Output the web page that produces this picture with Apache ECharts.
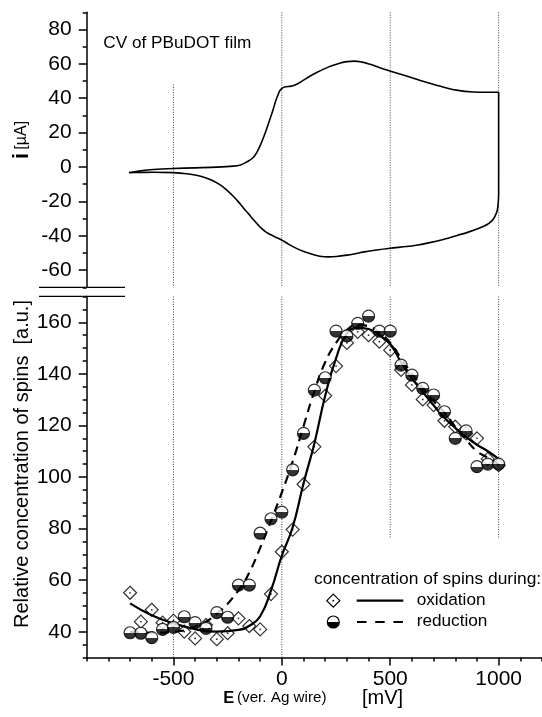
<!DOCTYPE html>
<html>
<head>
<meta charset="utf-8">
<script src="https://cdn.jsdelivr.net/npm/echarts@6/dist/echarts.min.js"></script>
<style>
html,body{margin:0;padding:0;background:#fff;}
#c{width:542px;height:717px;}
</style>
</head>
<body>
<div id="c"></div>
<script>
// ---------- data ----------
// Cyclic voltammogram, forward (anodic) branch
const cvForwardE = [-705,-650,-593,-500,-400,-300,-224,-190,-170,-150,-132,-115,-101,-85,-71,-55,-40,-28,-17,-8,6,20,37,55,75,100,129,160,190,230,267,300,336,370,398,425,452,498,575,651,728,805,882,950,1000];
const cvForwardI = [-3.3,-2.2,-1.5,-0.9,-0.5,-0.1,0.5,1.2,2.4,3.8,5.5,8.5,12.1,17,21.8,27.8,33.5,38.5,42.2,44.6,46.2,46.7,46.9,47.4,48.6,50.5,52.8,54.9,56.8,58.9,60.4,61.3,61.6,61,60.1,59,57.7,55.9,52.9,49.9,47.1,44.7,43.6,43.5,43.5];
// reverse (cathodic) branch
const cvReverseE = [1000,1000,998,994,989,978,966,945,912,860,805,740,682,620,575,498,421,380,344,300,252,215,175,140,98,60,37,1,-35,-71,-100,-132,-155,-178,-200,-224,-255,-286,-325,-363,-400,-439,-501,-593,-650,-705];
const cvReverseI = [10,-15,-21,-25,-27,-29.8,-31.6,-33.6,-35.5,-37.9,-40,-42.3,-44,-45.5,-46.3,-47.3,-48.6,-49.4,-50.3,-51.3,-52.1,-52.3,-51.9,-50.8,-49,-46.9,-45.3,-42.6,-40.4,-38,-35,-30.5,-27,-23.7,-20.3,-17,-13.3,-10.3,-7.6,-5.8,-4.7,-3.9,-3.3,-3.1,-3.2,-3.3];

// Relative concentration of spins (points)
const potentials = [-700,-650,-600,-550,-500,-450,-400,-350,-300,-250,-200,-150,-100,-50,0,50,100,150,200,250,300,350,400,450,500,550,600,650,700,750,800,850,900,950,1000];
const oxidation  = [55.1,43.9,48.5,43.5,44.3,40,37.4,42.6,37.1,39.4,45.2,42.2,40.9,54.6,71,79.6,97.2,111.7,131.5,143,152,156.3,155,152.5,149.2,141.5,135.7,130.1,127.9,121.8,119.5,116.9,115,107,104.6];
const reduction  = [39.6,39.4,37.7,40.9,41.7,45.8,43.5,41.3,47.4,45.6,58.1,58.1,78.2,83.8,86.4,102.8,116.9,133.7,138.5,156.6,154.7,159.6,162.4,156.6,156.6,143.4,139.5,134.4,131.8,125.3,115,117.9,104,105,105];

// fitted curves
const fitE     = [-700,-600,-500,-400,-300,-200,-150,-100,-50,0,50,100,150,200,250,300,350,400,450,500,550,600,650,700,750,800,850,900,950,1000];
const oxFit    = [51,46.4,43.3,41,40,40.7,42.3,46,56,69.5,80.5,97.5,113,131.5,146,155.6,157.8,157.4,155,151.5,144.5,138.3,133,127.8,123,119,115.5,112.5,110,107];
const redFit   = [40,39.6,40,42,47,56,63,72.5,83,94,106,119.7,133.2,144.5,152,157,159,158.4,156,152,146,140,134.5,129.5,125,119.5,114.5,110,107.5,105];

// axes / ticks
const xRange = [-900, 1200];
const xTickLabels = [-500, 0, 500, 1000];
const topYRange = [-70, 90];
const topYLabels = [-60, -40, -20, 0, 20, 40, 60, 80];
const bottomYRange = [30, 170];
const bottomYLabels = [40, 60, 80, 100, 120, 140, 160];

// dotted guide lines
const guideE = [-500, 0, 500, 1000];
const guideTopFrom = [48, 90, 90, 90];
const guideBottomTo = [30, 30, 76, 76];

// ---------- chart ----------
const FONT = '"Liberation Sans", Arial, sans-serif';
const chart = echarts.init(document.getElementById('c'), null, {renderer: 'canvas'});

const GL = 86.7, GR = 0;
const grids = [
  {left: GL, right: GR, top: 12.3, height: 275},
  {left: GL, right: GR, top: 296.5, height: 361}
];

const axisLineStyle = {color: '#000', width: 1.5};
const labelStyle = {color: '#000', fontFamily: FONT, fontSize: 21, formatter: v => String(v)};

const xAxes = [
  {gridIndex: 0, type: 'value', min: xRange[0], max: xRange[1], show: false},
  {gridIndex: 1, type: 'value', min: xRange[0], max: xRange[1], interval: 100, position: 'bottom',
   axisLine: {show: true, onZero: false, lineStyle: axisLineStyle},
   axisTick: {show: true, length: 4, lineStyle: axisLineStyle},
   axisLabel: {show: false}, splitLine: {show: false}},
  {gridIndex: 1, type: 'value', min: xRange[0], max: xRange[1], position: 'bottom',
   axisLine: {show: false, onZero: false},
   axisTick: {show: true, length: 8, lineStyle: axisLineStyle, customValues: xTickLabels},
   axisLabel: Object.assign({show: true, margin: 11, customValues: xTickLabels}, labelStyle),
   splitLine: {show: false}}
];

const yAxes = [
  {gridIndex: 0, type: 'value', min: topYRange[0], max: topYRange[1], interval: 10, position: 'left',
   axisLine: {show: true, onZero: false, lineStyle: axisLineStyle},
   axisTick: {show: true, length: 4, lineStyle: axisLineStyle},
   axisLabel: {show: false}, splitLine: {show: false}},
  {gridIndex: 0, type: 'value', min: topYRange[0], max: topYRange[1], position: 'left',
   axisLine: {show: false, onZero: false},
   axisTick: {show: true, length: 8, lineStyle: axisLineStyle, customValues: topYLabels},
   axisLabel: Object.assign({show: true, margin: 15, customValues: topYLabels}, labelStyle),
   splitLine: {show: false}},
  {gridIndex: 1, type: 'value', min: bottomYRange[0], max: bottomYRange[1], interval: 5, position: 'left',
   axisLine: {show: true, onZero: false, lineStyle: axisLineStyle},
   axisTick: {show: true, length: 4, lineStyle: axisLineStyle},
   axisLabel: {show: false}, splitLine: {show: false}},
  {gridIndex: 1, type: 'value', min: bottomYRange[0], max: bottomYRange[1], position: 'left',
   axisLine: {show: false, onZero: false},
   axisTick: {show: true, length: 8, lineStyle: axisLineStyle, customValues: bottomYLabels},
   axisLabel: Object.assign({show: true, margin: 15, customValues: bottomYLabels}, labelStyle),
   splitLine: {show: false}}
];

const halfFill = {
  type: 'linear', x: 0, y: 0, x2: 0, y2: 1,
  colorStops: [
    {offset: 0, color: '#fff'}, {offset: 0.5, color: '#fff'},
    {offset: 0.5, color: '#000'}, {offset: 1, color: '#000'}
  ]
};

const series = [];

// guide lines
const guideStyle = {color: '#444', width: 1, type: [1, 1.5]};
guideE.forEach((e, i) => {
  series.push({type: 'line', xAxisIndex: 0, yAxisIndex: 0, silent: true, symbol: 'none', z: 1,
    data: [[e, guideTopFrom[i]], [e, topYRange[0]]], lineStyle: guideStyle});
  series.push({type: 'line', xAxisIndex: 1, yAxisIndex: 2, silent: true, symbol: 'none', z: 1,
    data: [[e, bottomYRange[1]], [e, guideBottomTo[i]]], lineStyle: guideStyle});
});

// CV loop
const cvData = cvForwardE.map((e, i) => [e, cvForwardI[i]])
  .concat(cvReverseE.map((e, i) => [e, cvReverseI[i]]));
series.push({type: 'line', xAxisIndex: 0, yAxisIndex: 0, data: cvData, smooth: 0.3,
  symbol: 'none', silent: true, z: 3, lineStyle: {color: '#000', width: 1.6}});

// oxidation diamonds
series.push({type: 'scatter', xAxisIndex: 1, yAxisIndex: 2, silent: true, z: 2,
  data: potentials.map((e, i) => [e, oxidation[i]]),
  symbol: 'diamond', symbolSize: 13,
  itemStyle: {color: 'rgba(255,255,255,0)', borderColor: '#000', borderWidth: 1.2}});
series.push({type: 'scatter', xAxisIndex: 1, yAxisIndex: 2, silent: true, z: 2,
  data: potentials.map((e, i) => [e, oxidation[i]]),
  symbol: 'circle', symbolSize: 1.8, itemStyle: {color: '#000'}});

// fits
series.push({type: 'line', xAxisIndex: 1, yAxisIndex: 2, silent: true, z: 3, smooth: true,
  data: fitE.map((e, i) => [e, oxFit[i]]), symbol: 'none',
  lineStyle: {color: '#000', width: 2.2}});
series.push({type: 'line', xAxisIndex: 1, yAxisIndex: 2, silent: true, z: 3, smooth: true,
  data: fitE.map((e, i) => [e, redFit[i]]), symbol: 'none',
  lineStyle: {color: '#000', width: 2.2, type: [9, 6]}});

// reduction half-filled circles
series.push({type: 'scatter', xAxisIndex: 1, yAxisIndex: 2, silent: true, z: 4,
  data: potentials.map((e, i) => [e, reduction[i]]),
  symbol: 'circle', symbolSize: 12,
  itemStyle: {color: halfFill, borderColor: '#000', borderWidth: 1.2}});

const txt = (x, y, text, size, extra) => ({
  type: 'text', x: x, y: y, silent: true,
  style: Object.assign({text: text, fontFamily: FONT, fontSize: size, fill: '#000',
    align: 'left', verticalAlign: 'middle'}, extra || {})
});

const graphic = [
  // axis break marks
  {type: 'line', silent: true, shape: {x1: 39, y1: 287.3, x2: 125, y2: 287.3}, style: {stroke: '#000', lineWidth: 1.3}},
  {type: 'line', silent: true, shape: {x1: 39, y1: 296.3, x2: 125, y2: 296.3}, style: {stroke: '#000', lineWidth: 1.3}},
  // panel text
  txt(103.3, 43.5, 'CV of PBuDOT film', 17.2),
  // y titles
  {type: 'text', x: 22, y: 140, rotation: Math.PI / 2, silent: true,
   style: {text: '{b|i} {n|[µA]}', fontFamily: FONT, fill: '#000', align: 'center', verticalAlign: 'middle',
     rich: {b: {fontFamily: FONT, fontSize: 22, fontWeight: 'bold'}, n: {fontFamily: FONT, fontSize: 16}}}},
  {type: 'text', x: 22.5, y: 464, rotation: Math.PI / 2, silent: true,
   style: {text: 'Relative concentration of spins  [a.u.]', fontFamily: FONT, fontSize: 20, fill: '#000',
     align: 'center', verticalAlign: 'middle'}},
  // x title
  txt(223.3, 698.3, 'E', 16.5, {fontWeight: 'bold'}),
  txt(237, 698.3, '(ver. Ag wire)', 15.2),
  txt(362, 698.3, '[mV]', 20),
  // legend
  txt(314, 579, 'concentration of spins during:', 17.4),
  {type: 'polygon', silent: true, shape: {points: [[333.3, 594.2], [339.8, 600.7], [333.3, 607.2], [326.8, 600.7]]},
   style: {fill: 'none', stroke: '#000', lineWidth: 1.2}},
  {type: 'circle', silent: true, shape: {cx: 333.3, cy: 600.7, r: 0.9}, style: {fill: '#000'}},
  {type: 'line', silent: true, shape: {x1: 356.7, y1: 600.7, x2: 403.3, y2: 600.7}, style: {stroke: '#000', lineWidth: 2.2}},
  txt(416.7, 600.6, 'oxidation', 17.2),
  {type: 'circle', silent: true, shape: {cx: 333.3, cy: 622, r: 6},
   style: {fill: new echarts.graphic.LinearGradient(0, 0, 0, 1, halfFill.colorStops), stroke: '#000', lineWidth: 1.2}},
  {type: 'line', silent: true, shape: {x1: 357, y1: 622, x2: 403.3, y2: 622},
   style: {stroke: '#000', lineWidth: 2.2, lineDash: [9.5, 8.7]}},
  txt(416.7, 620.8, 'reduction', 17.2)
];

chart.setOption({
  animation: false,
  backgroundColor: '#fff',
  grid: grids,
  xAxis: xAxes,
  yAxis: yAxes,
  series: series,
  graphic: graphic
});
</script>
</body>
</html>
